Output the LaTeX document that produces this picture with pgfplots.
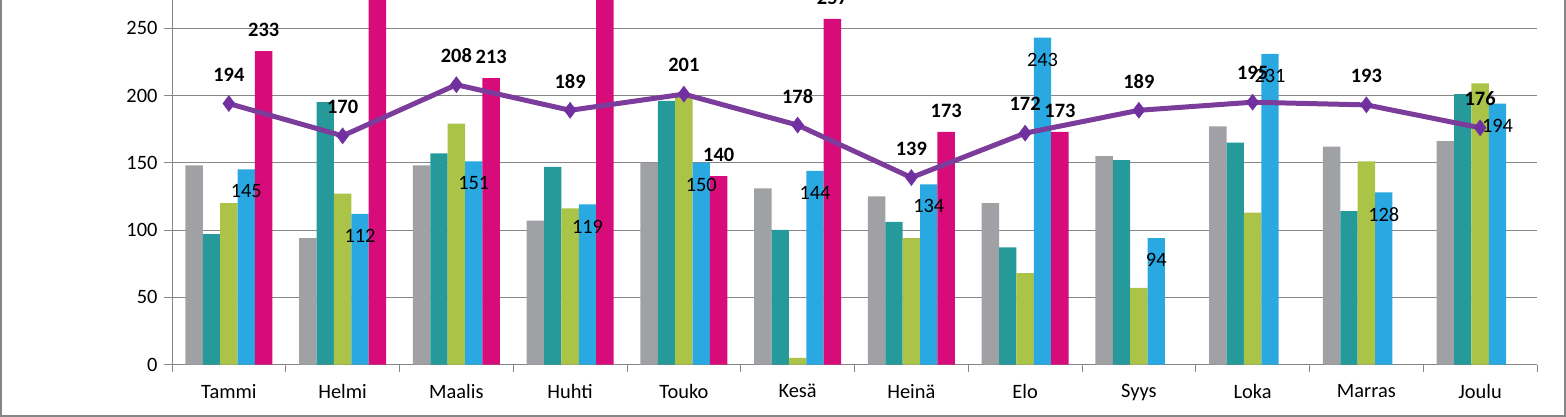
\documentclass[border=0pt]{standalone}
\usepackage{fontspec}
\setmainfont{Carlito}
\usepackage{pgfplots}
\pgfplotsset{compat=1.18}
\definecolor{cgray}{RGB}{160,161,164}
\definecolor{cteal}{RGB}{38,153,154}
\definecolor{cgreen}{RGB}{171,196,72}
\definecolor{cblue}{RGB}{41,168,226}
\definecolor{cmag}{RGB}{216,11,123}
\definecolor{cline}{RGB}{124,60,155}
\definecolor{cmark}{RGB}{112,48,160}
\definecolor{cgrid}{RGB}{134,134,134}
\newcommand{\lblfont}{\fontsize{20.4bp}{24bp}\selectfont}
\begin{document}
\begin{tikzpicture}
\path[use as bounding box, clip] (-172bp,-52.5bp) rectangle (1394bp,364.5bp);
\begin{axis}[
  at={(0,0)}, anchor=south west,
  scale only axis, width=1365bp, height=364.5bp,
  xmin=-0.5, xmax=11.5, ymin=0, ymax=271,
  xtick={0,...,11},
  xticklabels={Tammi,Helmi,Maalis,Huhti,Touko,Kesä,Heinä,Elo,Syys,Loka,Marras,Joulu},
  minor xtick={-0.5,0.5,...,11.5},
  x tick style={draw=none},
  minor x tick style={draw=cgrid, line width=0.8bp},
  minor tick length=7bp,
  ytick={0,50,100,150,200,250},
  ymajorgrids, grid style={cgrid, line width=0.9bp},
  y tick style={draw=cgrid, line width=0.8bp},
  major tick length=8bp,
  tick align=outside,
  xtick pos=bottom, ytick pos=left,
  axis x line*=bottom, axis y line*=left,
  axis line style={cgrid, line width=0.9bp, -},
  tick label style={font=\lblfont},
  /pgf/number format/assume math mode=true,
  yticklabel style={xshift=-3bp},
  xticklabel style={yshift=-8bp},
  clip=true,
]
% gray
\addplot[ybar, bar width=17.4bp, bar shift=-34.8bp, fill=cgray, draw=none] coordinates {
(0,148) (1,94) (2,148) (3,107) (4,150) (5,131) (6,125) (7,120) (8,155) (9,177) (10,162) (11,166)};
% teal
\addplot[ybar, bar width=17.4bp, bar shift=-17.4bp, fill=cteal, draw=none] coordinates {
(0,97) (1,195) (2,157) (3,147) (4,196) (5,100) (6,106) (7,87) (8,152) (9,165) (10,114) (11,201)};
% green
\addplot[ybar, bar width=17.4bp, bar shift=0bp, fill=cgreen, draw=none] coordinates {
(0,120) (1,127) (2,179) (3,116) (4,199) (5,5) (6,94) (7,68) (8,57) (9,113) (10,151) (11,209)};
% blue
\addplot[ybar, bar width=17.4bp, bar shift=17.4bp, fill=cblue, draw=none,
  nodes near coords, every node near coord/.append style={font=\lblfont, text=black, anchor=center, xshift=17.4bp, yshift=-22bp}] coordinates {
(0,145) (1,112) (2,151) (3,119) (4,150) (5,144) (6,134) (7,243) (8,94) (9,231) (10,128) (11,194)};
% magenta
\addplot[ybar, bar width=17.4bp, bar shift=34.8bp, fill=cmag, draw=none,
  nodes near coords, every node near coord/.append style={font=\lblfont\bfseries, text=black, anchor=center, xshift=34.8bp, yshift=21bp}] coordinates {
(0,233) (1,300) (2,213) (3,295) (4,140) (5,257) (6,173) (7,173)};
% line
\addplot[color=cline, line width=5bp, mark=diamond*, mark size=8bp,
  mark options={fill=cmark, draw=cmark, line width=0.5bp},
  nodes near coords, every node near coord/.append style={font=\lblfont\bfseries, text=black, anchor=center, yshift=29bp}] coordinates {
(0,194) (1,170) (2,208) (3,189) (4,201) (5,178) (6,139) (7,172) (8,189) (9,195) (10,193) (11,176)};
\end{axis}
\draw[cgrid, line width=1.5bp] (-171bp,370bp) -- (-171bp,-51.5bp) -- (1393bp,-51.5bp) -- (1393bp,370bp);
\end{tikzpicture}
\end{document}
